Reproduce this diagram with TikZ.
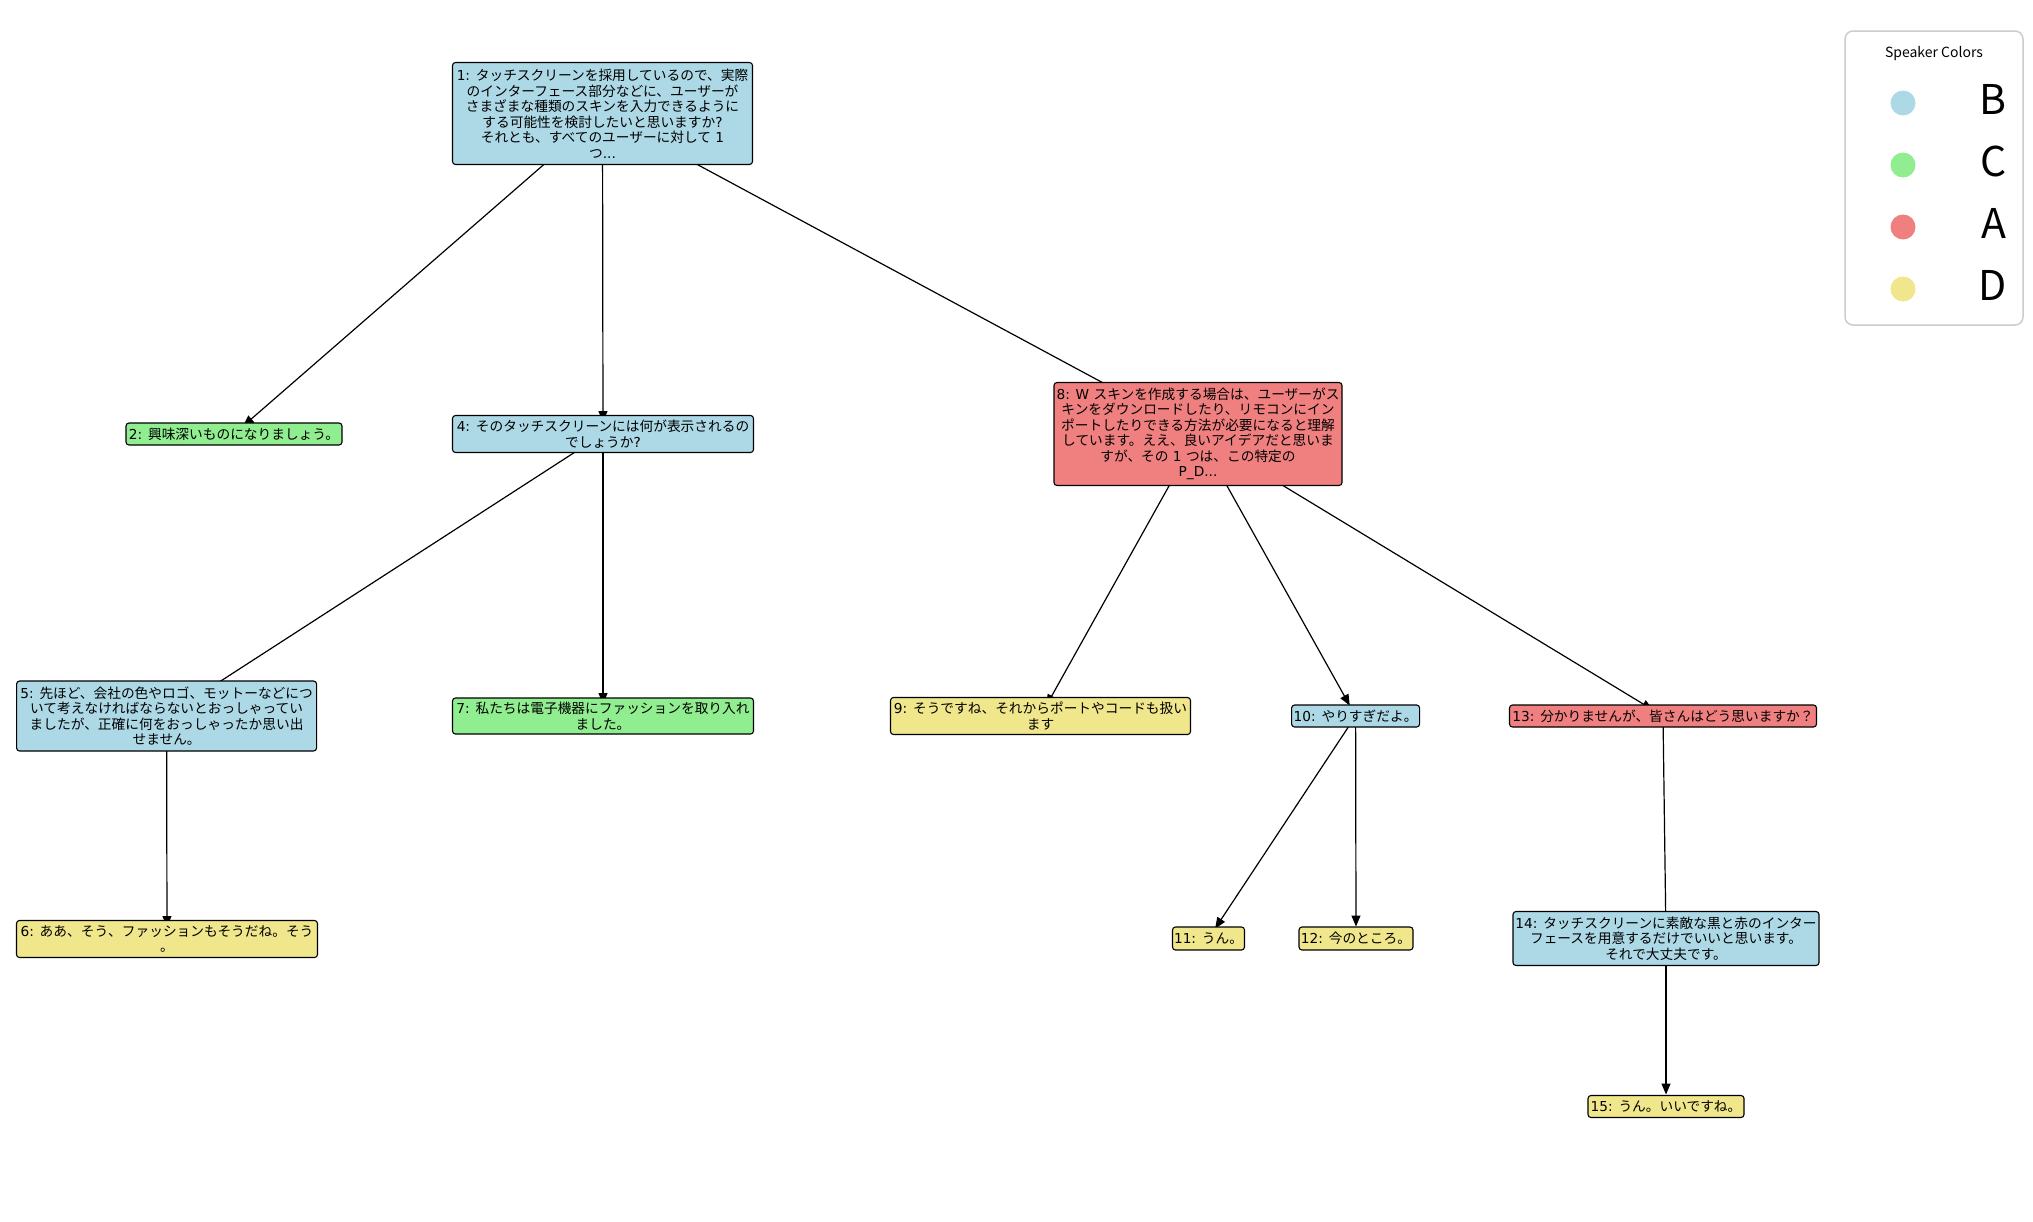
\documentclass[tikz,border=0pt]{standalone}
\usepackage{fontspec}
\setmainfont{Noto Sans CJK JP}
\newfontfamily\dv{DejaVu Sans}
\usetikzlibrary{arrows.meta,backgrounds}
\definecolor{spkB}{HTML}{ADD8E6}
\definecolor{spkC}{HTML}{90EE90}
\definecolor{spkA}{HTML}{F08080}
\definecolor{spkD}{HTML}{F0E68C}
\definecolor{legline}{HTML}{CCCCCC}
% Latin runs are set in DejaVu Sans, Japanese in Noto Sans CJK
\newcommand{\asc}[1]{{\dv #1}}
\begin{document}
\begin{tikzpicture}[x=1pt,y=-1pt,
  utt/.style={draw=black, line width=1.1pt, rounded corners=3pt, align=center,
    inner sep=0pt, font=\fontsize{13.7}{15.5}\selectfont},
  link/.style={-{Triangle[length=11pt,width=9pt]}, line width=1.2pt, shorten >=12pt},
  legdot/.style={circle, fill=#1, draw=none, minimum size=25pt, inner sep=0pt},
  legkey/.style={anchor=base east, font=\fontsize{41}{44}\selectfont}]
\useasboundingbox (0,0) rectangle (2033,1221);

% utterances
\node[utt, fill=spkB, minimum width=300pt, minimum height=102pt] (n1) at (602.5,113.5)
  {\asc{1: }タッチスクリーンを採用しているので、実際\\のインターフェース部分などに、ユーザーが\\さまざまな種類のスキンを入力できるように\\する可能性を検討したいと思いますか\asc{?}\\それとも、すべてのユーザーに対して\asc{ 1}\\つ\asc{...}};
\node[utt, fill=spkC, minimum width=216pt, minimum height=22pt] (n2) at (234,434)
  {\asc{2: }興味深いものになりましょう。};
\node[utt, fill=spkB, minimum width=301pt, minimum height=37pt] (n4) at (603,434)
  {\asc{4: }そのタッチスクリーンには何が表示されるの\\でしょうか\asc{?}};
\node[utt, fill=spkA, minimum width=288pt, minimum height=103pt] (n8) at (1198,434)
  {\asc{8: W }スキンを作成する場合は、ユーザーがス\\キンをダウンロードしたり、リモコンにイン\\ポートしたりできる方法が必要になると理解\\しています。ええ、良いアイデアだと思いま\\すが、その\asc{ 1 }つは、この特定の\\\asc{P\_D...}};
\node[utt, fill=spkB, minimum width=300pt, minimum height=70pt] (n5) at (166.6,716)
  {\asc{5: }先ほど、会社の色やロゴ、モットーなどにつ\\いて考えなければならないとおっしゃってい\\ましたが、正確に何をおっしゃったか思い出\\せません。};
\node[utt, fill=spkC, minimum width=301pt, minimum height=36pt] (n7) at (603,716)
  {\asc{7: }私たちは電子機器にファッションを取り入れ\\ました。};
\node[utt, fill=spkD, minimum width=300pt, minimum height=37pt] (n9) at (1040.5,716)
  {\asc{9: }そうですね、それからポートやコードも扱い\\ます};
\node[utt, fill=spkB, minimum width=128pt, minimum height=22pt] (n10) at (1355.6,716)
  {\asc{10: }やりすぎだよ。};
\node[utt, fill=spkA, minimum width=307pt, minimum height=22pt] (n13) at (1663,716)
  {\asc{13: }分かりませんが、皆さんはどう思いますか？};
\node[utt, fill=spkD, minimum width=301pt, minimum height=37pt] (n6) at (167,939)
  {\asc{6: }ああ、そう、ファッションもそうだね。そう\\。};
\node[utt, fill=spkD, minimum width=72pt, minimum height=23pt] (n11) at (1208.5,938.5)
  {\asc{11: }うん。};
\node[utt, fill=spkD, minimum width=114pt, minimum height=23pt] (n12) at (1356,938.5)
  {\asc{12: }今のところ。};
\node[utt, fill=spkB, minimum width=306pt, minimum height=54pt] (n14) at (1666,938.5)
  {\asc{14: }タッチスクリーンに素敵な黒と赤のインター\\フェースを用意するだけでいいと思います。\\それで大丈夫です。};
\node[utt, fill=spkD, minimum width=156pt, minimum height=22pt] (n15) at (1666,1106.5)
  {\asc{15: }うん。いいですね。};

% replies, drawn beneath the boxes
\begin{scope}[on background layer]
\fill[white] (0,0) rectangle (2033,1221);
\draw[link] (n1.center) -- (n2.center);
\draw[link] (n1.center) -- (n4.center);
\draw[link] (n1.center) -- (n8.center);
\draw[link] (n4.center) -- (n5.center);
\draw[link] (n4.center) -- (n7.center);
\draw[link] (n5.center) -- (n6.center);
\draw[link] (n8.center) -- (n9.center);
\draw[link] (n8.center) -- (n10.center);
\draw[link] (n8.center) -- (n13.center);
\draw[link] (n10.center) -- (n11.center);
\draw[link] (n10.center) -- (n12.center);
\draw[link] (n13.center) -- (n14.center);
\draw[link] (n14.center) -- (n15.center);
\end{scope}

% legend
\node[draw=legline, line width=1.5pt, fill=white, rounded corners=8pt,
  minimum width=178pt, minimum height=294pt, inner sep=0pt] (leg) at (1934,178) {};
\node[font=\fontsize{14}{16}\selectfont] (legtitle) at (1934,54) {Speaker Colors};
\node[legdot=spkB] (dB) at (1903,103) {};
\node[legdot=spkC] (dC) at (1903,165) {};
\node[legdot=spkA] (dA) at (1903,227) {};
\node[legdot=spkD] (dD) at (1903,289) {};
\node[legkey] (kB) at (2010,114) {B};
\node[legkey] (kC) at (2010,176) {C};
\node[legkey] (kA) at (2010,238) {A};
\node[legkey] (kD) at (2010,300) {D};
\end{tikzpicture}
\end{document}
